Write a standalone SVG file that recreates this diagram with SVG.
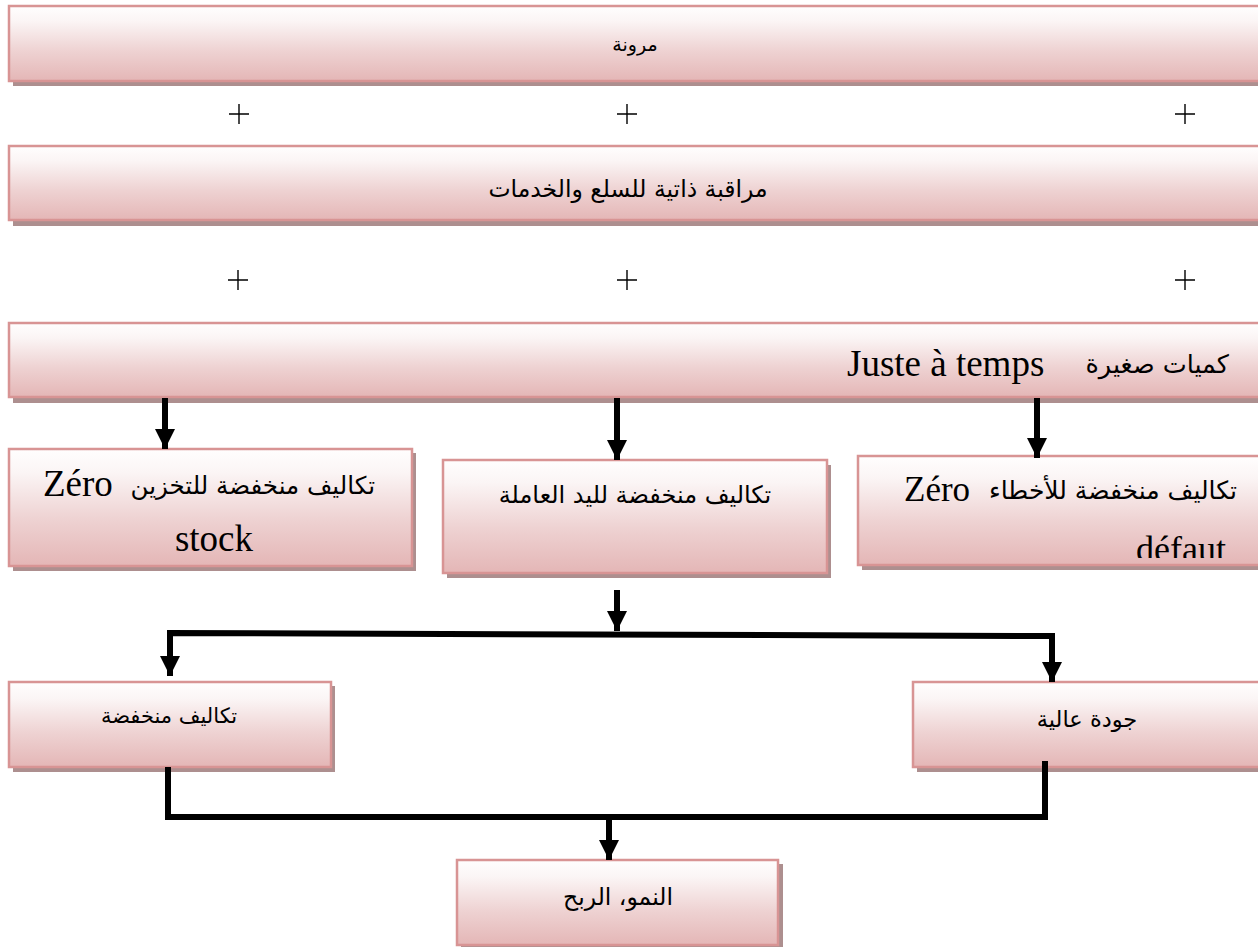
<svg xmlns="http://www.w3.org/2000/svg" width="1258" height="947" viewBox="0 0 1258 947">
  <defs>
    <linearGradient id="pinkFill" x1="0" y1="0" x2="0" y2="1">
      <stop offset="0" stop-color="#fffefe"/>
      <stop offset="0.2" stop-color="#fbf5f5"/>
      <stop offset="0.6" stop-color="#eed2d2"/>
      <stop offset="1" stop-color="#e4b6b6"/>
    </linearGradient>
    <marker id="arrowHead" viewBox="0 0 10 10" refX="10" refY="5" markerWidth="3.4" markerHeight="3.4" markerUnits="strokeWidth" orient="auto">
      <path d="M0,0 L10,5 L0,10 Z" fill="#000"/>
    </marker>
    <clipPath id="clipDefaut">
      <rect x="858" y="456" width="420" height="102"/>
    </clipPath>
  </defs>
  <style>
    .shadow { fill: #ad8f8f; }
    .box { fill: url(#pinkFill); stroke: #d89494; stroke-width: 2.5; }
    .ar { font-family: "DejaVu Sans", "Noto Sans", sans-serif; fill: #000; }
    .lat { font-family: "Liberation Serif", "Times New Roman", serif; fill: #000; }
    .plus { stroke: #000; stroke-width: 1.4; }
    .conn { fill: none; stroke: #000; stroke-width: 6; }
  </style>

  <rect width="1258" height="947" fill="#fff"/>

  <!-- plus signs between the top bands -->
  <g id="plus-signs" class="plus">
    <path d="M229,114 h20 M239,104 v20"/>
    <path d="M617,114 h20 M627,104 v20"/>
    <path d="M1175,114 h20 M1185,104 v20"/>
    <path d="M228,280 h20 M238,270 v20"/>
    <path d="M617,280 h20 M627,270 v20"/>
    <path d="M1175,280 h20 M1185,270 v20"/>
  </g>

  <g id="flexibility">
    <rect class="shadow" x="13" y="10" width="1270" height="76"/>
    <rect class="box" x="9" y="6" width="1270" height="75"/>
    <text class="ar" x="635" y="51" font-size="19" text-anchor="middle">مرونة</text>
  </g>

  <g id="self-control">
    <rect class="shadow" x="13" y="150" width="1270" height="76"/>
    <rect class="box" x="9" y="146" width="1270" height="74"/>
    <text class="ar" x="628" y="197" font-size="23.5" text-anchor="middle">مراقبة ذاتية للسلع والخدمات</text>
  </g>

  <g id="just-in-time">
    <rect class="shadow" x="13" y="327" width="1270" height="76"/>
    <rect class="box" x="9" y="323" width="1270" height="74"/>
    <text class="lat" x="847" y="376" font-size="37">Juste à temps</text>
    <text class="ar" x="1229" y="373" font-size="25.5" text-anchor="end">كميات صغيرة</text>
  </g>

  <g id="zero-stock">
    <rect class="shadow" x="13" y="453" width="403" height="118"/>
    <rect class="box" x="9" y="449" width="403" height="117"/>
    <text class="ar" x="375" y="494" font-size="24.5" text-anchor="end">تكاليف منخفضة للتخزين</text>
    <text class="lat" x="43" y="496" font-size="37">Zéro</text>
    <text class="lat" x="214" y="551" font-size="37" text-anchor="middle">stock</text>
  </g>

  <g id="labour-cost">
    <rect class="shadow" x="447" y="465" width="384" height="113"/>
    <rect class="box" x="443" y="460" width="384" height="113"/>
    <text class="ar" x="635" y="503" font-size="24" text-anchor="middle">تكاليف منخفضة لليد العاملة</text>
  </g>

  <g id="zero-defect">
    <rect class="shadow" x="862" y="460" width="420" height="110"/>
    <rect class="box" x="858" y="456" width="420" height="109"/>
    <text class="ar" x="1237" y="499" font-size="25" text-anchor="end">تكاليف منخفضة للأخطاء</text>
    <text class="lat" x="904" y="501" font-size="35">Zéro</text>
    <text class="lat" x="1136" y="561" font-size="36" clip-path="url(#clipDefaut)">défaut</text>
  </g>

  <g id="low-cost">
    <rect class="shadow" x="13" y="686" width="322" height="86"/>
    <rect class="box" x="9" y="682" width="322" height="85"/>
    <text class="ar" x="169" y="723" font-size="21" text-anchor="middle">تكاليف منخفضة</text>
  </g>

  <g id="high-quality">
    <rect class="shadow" x="917" y="686" width="360" height="86"/>
    <rect class="box" x="913" y="682" width="360" height="85"/>
    <text class="ar" x="1087" y="727" font-size="22.5" text-anchor="middle">جودة عالية</text>
  </g>

  <g id="growth-profit">
    <rect class="shadow" x="461" y="864" width="322" height="86"/>
    <rect class="box" x="457" y="860" width="321" height="85"/>
    <text class="ar" x="618" y="905" font-size="23.5" text-anchor="middle">النمو، الربح</text>
  </g>

  <g id="connectors" class="conn">
    <path d="M165,398 V449" marker-end="url(#arrowHead)"/>
    <path d="M617,398 V460" marker-end="url(#arrowHead)"/>
    <path d="M1037,398 V458" marker-end="url(#arrowHead)"/>
    <path d="M617,590 V631" marker-end="url(#arrowHead)"/>
    <path d="M1052,682 V636 L170,633 V676" marker-end="url(#arrowHead)" stroke-linejoin="miter"/>
    <path d="M1052,636 V682" marker-end="url(#arrowHead)"/>
    <path d="M168,767 V817 H1045 V761"/>
    <path d="M609,817 V860" marker-end="url(#arrowHead)"/>
  </g>
</svg>
